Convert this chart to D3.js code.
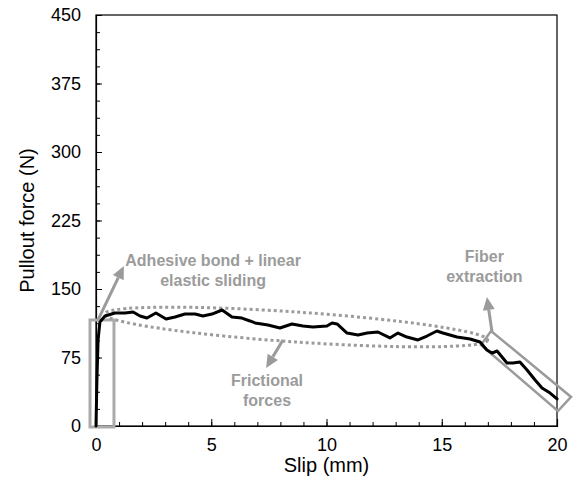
<!DOCTYPE html>
<html>
<head>
<meta charset="utf-8">
<script src="https://cdn.jsdelivr.net/npm/d3@7"></script>
<style>
  html, body { margin: 0; padding: 0; background: #fff; }
  svg { display: block; }
  text { font-family: "Liberation Sans", Arial, Helvetica, sans-serif; }
</style>
</head>
<body>
<svg id="chart" width="579" height="480"></svg>
<script>
// ---- data ----
const slip = [0.00, 0.04, 0.09, 0.17, 0.39, 0.82, 1.26, 1.61, 1.91, 2.21, 2.60, 3.04, 3.43, 3.86, 4.30, 4.64,
  5.03, 5.47, 5.90, 6.33, 6.68, 6.90, 7.46, 7.98, 8.50, 8.98, 9.41, 10.02, 10.24, 10.46, 10.89, 11.37,
  11.76, 12.23, 12.75, 13.10, 13.49, 13.97, 14.36, 14.79, 15.05, 15.66, 16.23, 16.66, 16.96, 17.18,
  17.40, 17.83, 18.09, 18.39, 18.70, 19.05, 19.35, 19.70, 20.00];
const force = [0, 50.4, 94.2, 113.9, 120.4, 123.7, 123.7, 124.8, 120.4, 118.2, 123.7, 117.2, 119.3, 122.6, 122.6, 120.4,
  122.6, 127.0, 119.3, 118.2, 115.0, 112.8, 110.6, 107.3, 111.7, 109.5, 108.4, 109.5, 112.8, 111.7, 101.8, 99.6,
  101.8, 102.9, 96.4, 101.8, 97.4, 94.2, 98.5, 104.0, 101.8, 97.4, 95.3, 92.0, 83.2, 79.9,
  82.1, 69.0, 69.0, 70.1, 61.3, 50.4, 41.6, 36.1, 29.6];
const xTicks = [0, 5, 10, 15, 20];
const yTicks = [0, 75, 150, 225, 300, 375, 450];
const xLabel = "Slip (mm)";
const yLabel = "Pullout force (N)";
const notes = [
  {lines: ["Adhesive bond + linear", "elastic sliding"], x: 5.08, y: 175.2},
  {lines: ["Frictional", "forces"], x: 7.42, y: 43.8},
  {lines: ["Fiber", "extraction"], x: 16.85, y: 179.6}
];
const arrows = [
  {from: [0.09, 116.1], to: [1.21, 175.2]},
  {from: [8.11, 94.2], to: [7.38, 63.5]},
  {from: [17.18, 102.9], to: [16.96, 141.2]}
];
const bondBox = [[-0.26, -1.1], [0.78, -1.1], [0.78, 116.1], [-0.26, 116.1]];
const extractBox = [[16.70, 88.7], [17.14, 104.0], [20.61, 31.8], [20.04, 16.4]];
const frictionEllipse = {cx: 8.68, cy: 108.4, a: 8.33, b: 16.4, angle: 3.9};

// ---- layout ----
const svg = d3.select("#chart");
const x = d3.scaleLinear().domain([0, 20]).range([96, 557]);
const y = d3.scaleLinear().domain([0, 450]).range([426, 15]);
const grey = "#9b9b9b";

// frame
svg.append("rect")
  .attr("x", x(0)).attr("y", y(450))
  .attr("width", x(20) - x(0)).attr("height", y(0) - y(450))
  .attr("fill", "none").attr("stroke", "#000").attr("stroke-width", 1.2);

// axes
const xMinor = d3.range(0, 20.001, 1);
const yMinor = d3.range(0, 450.001, 18.75);

const gx = svg.append("g").attr("transform", `translate(0,${y(0)})`)
  .call(d3.axisBottom(x).tickValues(xTicks).tickSize(-7).tickPadding(12).tickFormat(d3.format("d")));
svg.append("g").attr("transform", `translate(0,${y(0)})`)
  .call(d3.axisBottom(x).tickValues(xMinor).tickSize(-4).tickFormat(""))
  .call(g => g.select(".domain").remove());
const gy = svg.append("g").attr("transform", `translate(${x(0)},0)`)
  .call(d3.axisLeft(y).tickValues(yTicks).tickSize(-6).tickPadding(15).tickFormat(d3.format("d")));
svg.append("g").attr("transform", `translate(${x(0)},0)`)
  .call(d3.axisLeft(y).tickValues(yMinor).tickSize(-4).tickFormat(""))
  .call(g => g.select(".domain").remove());

svg.selectAll(".tick line").attr("stroke", "#000").attr("stroke-width", 1);
svg.selectAll(".domain").attr("stroke", "#000").attr("stroke-width", 1.2);
gx.selectAll("text").attr("font-size", 18).attr("fill", "#000")
  .attr("font-family", "'Liberation Sans', Arial, sans-serif");
gy.selectAll("text").attr("font-size", 18).attr("fill", "#000")
  .attr("font-family", "'Liberation Sans', Arial, sans-serif");

// axis titles
svg.append("text").attr("x", (x(0) + x(20)) / 2).attr("y", 472)
  .attr("text-anchor", "middle").attr("font-size", 20).text(xLabel);
svg.append("text")
  .attr("transform", `translate(34,${(y(0) + y(450)) / 2}) rotate(-90)`)
  .attr("text-anchor", "middle").attr("font-size", 20).text(yLabel);

// annotation boxes
const poly = d3.line().x(d => x(d[0])).y(d => y(d[1])).curve(d3.curveLinearClosed);
svg.append("path").attr("d", poly(bondBox))
  .attr("fill", "none").attr("stroke", "#aaa").attr("stroke-width", 3);
svg.append("path").attr("d", poly(extractBox))
  .attr("fill", "none").attr("stroke", grey).attr("stroke-width", 2.5);

// friction ellipse
const e = frictionEllipse;
svg.append("ellipse")
  .attr("cx", 0).attr("cy", 0)
  .attr("rx", x(e.a) - x(0)).attr("ry", y(0) - y(e.b))
  .attr("transform", `translate(${x(e.cx)},${y(e.cy)}) rotate(${e.angle})`)
  .attr("fill", "none").attr("stroke", grey).attr("stroke-width", 3)
  .attr("stroke-dasharray", "3,3");

// curve
const line = d3.line().x((d, i) => x(slip[i])).y((d, i) => y(force[i]));
svg.append("path").datum(force).attr("d", line)
  .attr("fill", "none").attr("stroke", "#000").attr("stroke-width", 3)
  .attr("stroke-linejoin", "round").attr("stroke-linecap", "round");

// arrows
arrows.forEach(a => {
  const x1 = x(a.from[0]), y1 = y(a.from[1]), x2 = x(a.to[0]), y2 = y(a.to[1]);
  const ang = Math.atan2(y2 - y1, x2 - x1);
  const hl = 13, hw = 6;
  const bx = x2 - hl * Math.cos(ang), by = y2 - hl * Math.sin(ang);
  svg.append("line").attr("x1", x1).attr("y1", y1).attr("x2", bx).attr("y2", by)
    .attr("stroke", grey).attr("stroke-width", 3);
  const px = -Math.sin(ang), py = Math.cos(ang);
  svg.append("path")
    .attr("d", `M${x2},${y2}L${bx + hw * px},${by + hw * py}L${bx - hw * px},${by - hw * py}Z`)
    .attr("fill", grey);
});

// annotation text
notes.forEach(n => {
  const t = svg.append("text").attr("text-anchor", "middle")
    .attr("font-size", 16).attr("font-weight", "bold").attr("fill", grey);
  n.lines.forEach((s, i) => {
    t.append("tspan").attr("x", x(n.x)).attr("y", y(n.y) + i * 20).text(s);
  });
});
</script>
</body>
</html>
